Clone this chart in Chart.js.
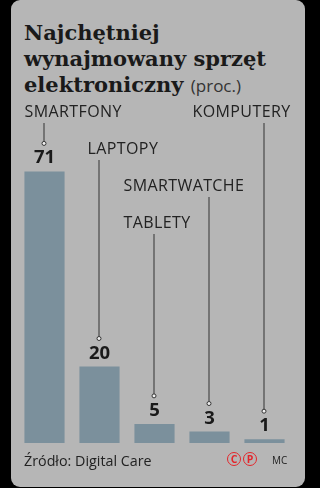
<!DOCTYPE html>
<html lang="pl">
<head>
<meta charset="UTF-8">
<title>Najchętniej wynajmowany sprzęt elektroniczny</title>
<script src="https://cdn.jsdelivr.net/npm/chart.js"></script>
<style>
  html, body { margin: 0; padding: 0; background: #000; }
  body { width: 320px; height: 488px; position: relative; overflow: hidden; }
  .card {
    position: absolute; left: 11px; top: 0; width: 294px; height: 487px;
    background: #b6b6b6; border-radius: 9px;
  }
  h1 {
    position: absolute; left: 24px; top: 20px; margin: 0;
    font-family: "DejaVu Serif", serif; font-weight: bold; font-size: 21px; line-height: 26px;
    color: #1a1a1a; letter-spacing: 0;
  }
  h1 span { font-family: "Open Sans", sans-serif; font-weight: normal; font-size: 17px; color: #333; }
  canvas { position: absolute; left: 0; top: 0; }
  .src { position: absolute; left: 24px; top: 451px; font: 14.3px "Open Sans", sans-serif; color: #222; }
  .cp { position: absolute; top: 452px; width: 12px; height: 12px; border: 1.6px solid #e3262b; border-radius: 50%;
        color: #e3262b; font: bold 10.5px/12px "Open Sans", sans-serif; text-align: center; }
  .mc { position: absolute; left: 272px; top: 453px; font: 10px "Open Sans", sans-serif; color: #222; }
</style>
</head>
<body>
<div class="card"></div>
<h1>Najchętniej<br>wynajmowany sprzęt<br>elektroniczny <span>(proc.)</span></h1>
<canvas id="chart" width="320" height="488"></canvas>
<div class="src">Źródło: Digital Care</div>
<div class="cp" style="left:227px">C</div>
<div class="cp" style="left:243px">P</div>
<div class="mc">MC</div>
<script>
const categories = ["SMARTFONY", "LAPTOPY", "TABLETY", "SMARTWATCHE", "KOMPUTERY"];
const values = [71, 20, 5, 3, 1];

// where each category name sits: y of text centre, x shift of text start from bar centre
const labelY = [112, 149, 223, 186, 112];
const labelDx = [-20, -12, -31, -86, -72];

const leaders = {
  id: "leaders",
  afterDatasetsDraw(chart) {
    const ctx = chart.ctx;
    const meta = chart.getDatasetMeta(0);
    ctx.save();
    meta.data.forEach((bar, i) => {
      const x = bar.x;
      const top = bar.y;
      // value
      ctx.fillStyle = "#1a1a1a";
      ctx.font = "bold 18.5px 'Open Sans', sans-serif";
      ctx.textAlign = "center";
      ctx.textBaseline = "alphabetic";
      ctx.letterSpacing = "0px";
      ctx.fillText(values[i], x, top - 8);
      // category name
      ctx.font = "16px 'Open Sans', sans-serif";
      ctx.letterSpacing = "0.4px";
      ctx.textAlign = "left";
      ctx.textBaseline = "middle";
      ctx.fillStyle = "#222";
      ctx.fillText(categories[i], x + labelDx[i], labelY[i]);
      // leader line with small circle
      ctx.strokeStyle = "#333";
      ctx.lineWidth = 1;
      const dotY = top - 28;
      ctx.beginPath();
      ctx.moveTo(x - 0.5, labelY[i] + 11);
      ctx.lineTo(x - 0.5, dotY - 2);
      ctx.stroke();
      ctx.beginPath();
      ctx.arc(x - 0.5, dotY, 2, 0, Math.PI * 2);
      ctx.fillStyle = "#f0f0f0";
      ctx.fill();
      ctx.stroke();
    });
    ctx.restore();
  }
};

new Chart(document.getElementById("chart"), {
  type: "bar",
  data: {
    labels: categories,
    datasets: [{
      data: values,
      backgroundColor: "#7b909c",
      barPercentage: 0.73,
      categoryPercentage: 1
    }]
  },
  options: {
    responsive: false,
    animation: false,
    layout: { padding: { left: 17, right: 28, top: 137, bottom: 45 } },
    plugins: { legend: { display: false }, tooltip: { enabled: false } },
    scales: {
      x: { display: false },
      y: { display: false, min: 0, max: 80 }
    }
  },
  plugins: [leaders]
});
</script>
</body>
</html>
